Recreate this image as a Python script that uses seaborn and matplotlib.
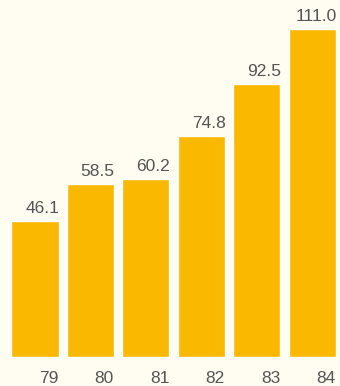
import matplotlib
matplotlib.use("Agg")
import matplotlib.pyplot as plt
import seaborn as sns
import pandas as pd

years = ["79", "80", "81", "82", "83", "84"]
values = [46.1, 58.5, 60.2, 74.8, 92.5, 111.0]
value_labels = ["46.1", "58.5", "60.2", "74.8", "92.5", "111.0"]

sns.set_theme(style="white")
plt.rcParams["font.family"] = ["Liberation Sans", "DejaVu Sans"]

bg = "#FFFDF2"
bar_color = "#FBB800"
text_color = "#555555"

df = pd.DataFrame({"year": years, "value": values})

fig = plt.figure(figsize=(3.4, 3.86), dpi=100, facecolor=bg)
ax = fig.add_axes([0, 0, 1, 1])
ax.set_facecolor(bg)

width = 0.85
sns.barplot(data=df, x="year", y="value", color=bar_color, saturation=1,
            width=width, ax=ax)

half = width / 2
for i, (v, lab) in enumerate(zip(values, value_labels)):
    ax.annotate(lab, (i + half, v), xytext=(0.5, 3.6), textcoords="offset points",
                ha="right", va="bottom", fontsize=12.5, color=text_color)
    ax.annotate(years[i], (i + half, 0), xytext=(0, -15.2), textcoords="offset points",
                ha="right", va="center", fontsize=12.5, color=text_color)

ax.set_xlim(-0.63, 5.5)
ax.set_ylim(-9.82, 120.93)
ax.set_axis_off()

fig.savefig("out.png", dpi=100, facecolor=bg)
